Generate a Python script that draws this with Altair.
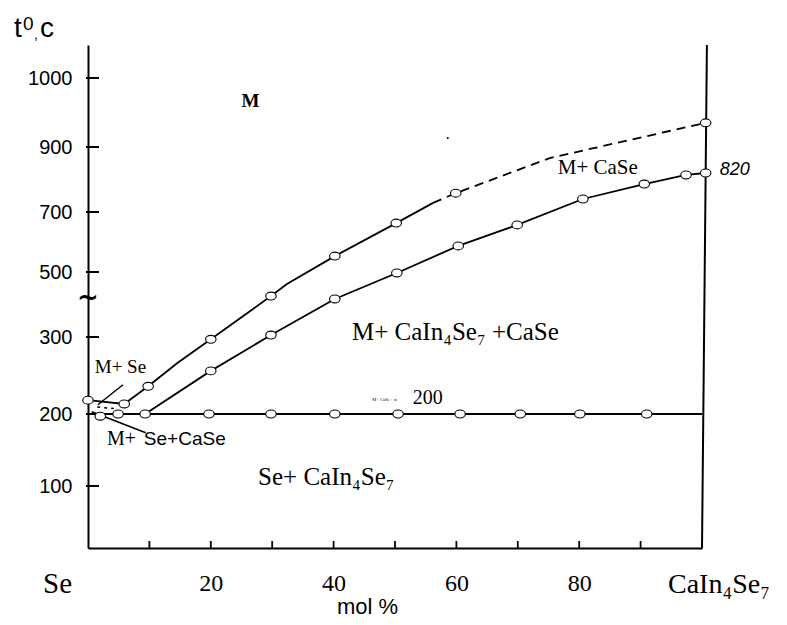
import altair as alt
import pandas as pd

# ---------------- data ----------------
# piecewise temperature axis (the original axis is not linear)
y_domain = [14, 100, 200, 300, 500, 700, 900, 1000, 1048]
y_range = [503, 441, 369, 292, 227, 167, 102, 33, 0]
y_tick_values = [100, 200, 300, 500, 700, 900, 1000]
x_tick_values = [10, 20, 30, 40, 50, 60, 70, 80, 90, 100]
x_label_values = [20, 40, 60, 80]

# upper curve (liquidus), solid part
upper_solid_x = [0, 5.9, 9.8, 14.5, 20.0, 29.8, 32.4, 40.2, 50.2, 56.2]
upper_solid_t = [218, 213, 236, 266, 297, 426, 463, 553, 663, 728]
# upper curve, dashed part
upper_dash_x = [56.2, 59.9, 75.2, 100.6]
upper_dash_t = [728, 758, 866, 935]
# measured points on upper curve
upper_pts_x = [0, 5.9, 9.8, 20.0, 29.8, 40.2, 50.2, 59.9, 100.6]
upper_pts_t = [218, 213, 236, 297, 426, 553, 663, 758, 935]

# lower curve
lower_x = [9.3, 20.0, 29.8, 40.2, 50.3, 60.3, 69.9, 80.6, 90.6, 97.4, 100.6]
lower_t = [200, 256, 306, 417, 497, 587, 657, 740, 786, 814, 820]

# horizontal line at 200
hline_x = [0, 100]
hline_t = [200, 200]
hline_pts_x = [2.0, 4.9, 19.7, 29.8, 40.2, 50.5, 60.6, 70.4, 80.1, 91.0]
hline_pts_t = [197, 200, 200, 200, 200, 200, 200, 200, 200, 200]

# right border (CaIn4Se7)
right_x = [100, 100.8]
right_t = [14, 1048]

# pointer lines
ptr1_x = [1.6, 5.7]
ptr1_t = [212, 238]
ptr2_x = [0.6, 9.4]
ptr2_t = [203, 174]
# short dashed piece near Se
sdash_x = [1.5, 4.2]
sdash_t = [209, 207]

# region labels
lab_text = ["M+ CaSe", "M+ CaIn\u2084Se\u2087 +CaSe", "M+ Se", "M+", "Se+ CaIn\u2084Se\u2087", "200"]
lab_x = [76.5, 43.0, 1.1, 3.1, 27.7, 52.9]
lab_t = [817, 296, 253, 157, 101, 213]
lab_size = [21, 25, 19, 20, 25, 20]

W, H = 614, 503
xs = alt.Scale(domain=[0, 100], nice=False, zero=False)
ys = alt.Scale(type="linear", domain=y_domain, range=y_range, nice=False, zero=False)

x_axis = alt.Axis(
    values=x_label_values, title=None, grid=False, ticks=False,
    domainColor="black", domainWidth=2, labelFont="Liberation Serif",
    labelFontSize=24, labelColor="black", labelPadding=42, labelBaseline="alphabetic")
y_axis = alt.Axis(
    values=y_tick_values, title=None, grid=False, ticks=False, format="d",
    domainColor="black", domainWidth=2, labelFont="Liberation Sans",
    labelFontSize=20, labelColor="black", labelPadding=16)


def X():
    return alt.X("x:Q", scale=xs, axis=x_axis)


def Y():
    return alt.Y("t:Q", scale=ys, axis=y_axis)


def df(xv, tv):
    return pd.DataFrame({"x": xv, "t": tv})


ytick_df = pd.DataFrame({"t": y_tick_values})
yticks = alt.Chart(ytick_df).mark_rule(color="black", strokeWidth=2).encode(
    y=Y(), x=alt.value(-2), x2=alt.value(11))
xtick_df = pd.DataFrame({"x": x_tick_values})
xticks = alt.Chart(xtick_df).mark_rule(color="black", strokeWidth=1.8).encode(
    x=X(), y=alt.value(H), y2=alt.value(H - 7))


def line(xv, tv, dash=None, width=1.8):
    kw = dict(color="black", strokeWidth=width)
    if dash:
        kw["strokeDash"] = dash
    return alt.Chart(df(xv, tv)).mark_line(**kw).encode(x=X(), y=Y(), order="x:Q")


ellipse = "M-1,0 A1,0.75 0 1,0 1,0 A1,0.75 0 1,0 -1,0 Z"


def pts(xv, tv):
    return alt.Chart(df(xv, tv)).mark_point(
        shape=ellipse, size=110, filled=True, fill="white", stroke="black",
        strokeWidth=1.1, opacity=1).encode(x=X(), y=Y())


layers = [
    yticks, xticks,
    line(right_x, right_t, width=2),
    line(hline_x, hline_t, width=2),
    line(upper_solid_x, upper_solid_t),
    line(upper_dash_x, upper_dash_t, dash=[9, 6]),
    line(lower_x, lower_t),
    line(ptr1_x, ptr1_t, width=1.5),
    line(ptr2_x, ptr2_t, width=1.5),
    line(sdash_x, sdash_t, dash=[3, 4], width=1.5),
    pts(upper_pts_x, upper_pts_t),
    pts(lower_x, lower_t),
    pts(hline_pts_x, hline_pts_t),
]

lab_df = pd.DataFrame({"x": lab_x, "t": lab_t, "txt": lab_text, "s": lab_size})
labels = alt.Chart(lab_df).mark_text(
    font="Liberation Serif", align="left", baseline="alphabetic", color="black"
).encode(x=X(), y=Y(), text="txt:N", size=alt.Size("s:Q", scale=None, legend=None))
layers.append(labels)

# liquid region label
m_df = pd.DataFrame({"x": [25.0], "t": [958], "txt": ["M"]})
layers.append(alt.Chart(m_df).mark_text(
    font="Liberation Serif", fontSize=19, fontWeight="bold", align="left",
    baseline="alphabetic", color="black").encode(x=X(), y=Y(), text="txt:N"))

# sans-serif part of "M+ Se+CaSe"
sans_df = pd.DataFrame({"x": [9.1], "t": [157], "txt": ["Se+CaSe"]})
layers.append(alt.Chart(sans_df).mark_text(
    font="Liberation Sans", fontSize=19, align="left", baseline="alphabetic", color="black"
).encode(x=X(), y=Y(), text="txt:N"))

# tiny annotation next to 200
tiny_df = pd.DataFrame({"x": [46.3], "t": [217], "txt": ["M+ CaSe + \u03b1"]})
layers.append(alt.Chart(tiny_df).mark_text(
    font="Liberation Serif", fontSize=4.5, align="left", baseline="alphabetic", color="black"
).encode(x=X(), y=Y(), text="txt:N"))

# 820 label
l820_df = pd.DataFrame({"x": [102.9], "t": [814], "txt": ["820"]})
layers.append(alt.Chart(l820_df).mark_text(
    font="Liberation Sans", fontSize=18, fontStyle="italic", align="left",
    baseline="alphabetic", color="black").encode(x=X(), y=Y(), text="txt:N"))

# axis break mark
brk_df = pd.DataFrame({"x": [0], "t": [420], "txt": ["~"]})
layers.append(alt.Chart(brk_df).mark_text(
    font="DejaVu Sans", fontSize=26, fontWeight="bold", align="center",
    baseline="middle", color="black").encode(x=X(), y=Y(), text="txt:N"))

# stray dot
dot_df = df([58.6], [913])
layers.append(alt.Chart(dot_df).mark_point(
    shape="circle", size=4, filled=True, color="black", opacity=1).encode(x=X(), y=Y()))


# texts outside the plot area
def ptext(txt, px, py, size, font="Liberation Sans", **kw):
    d = pd.DataFrame({"txt": [txt]})
    return alt.Chart(d).mark_text(font=font, fontSize=size, align="left",
                                  baseline="alphabetic", color="black", **kw).encode(
        x=alt.value(px), y=alt.value(py), text="txt:N")


layers += [
    ptext("t", -74, -8, 28),
    ptext("0", -65, -15, 19),
    ptext(",", -54, -6, 14),
    ptext("c", -48, -8, 28),
    ptext("Se", -45, 548, 29, font="Liberation Serif"),
    ptext("CaIn\u2084Se\u2087", 580, 548, 28, font="Liberation Serif"),
    ptext("mol %", 249, 569, 22),
]

chart = alt.layer(*layers).properties(
    width=W, height=H,
    autosize=alt.AutoSizeParams(type="none"),
    padding={"left": 80, "top": 37, "right": 77, "bottom": 70},
).configure_view(stroke=None)

chart.save("out.html", embed_options={"renderer": "svg", "actions": False})
